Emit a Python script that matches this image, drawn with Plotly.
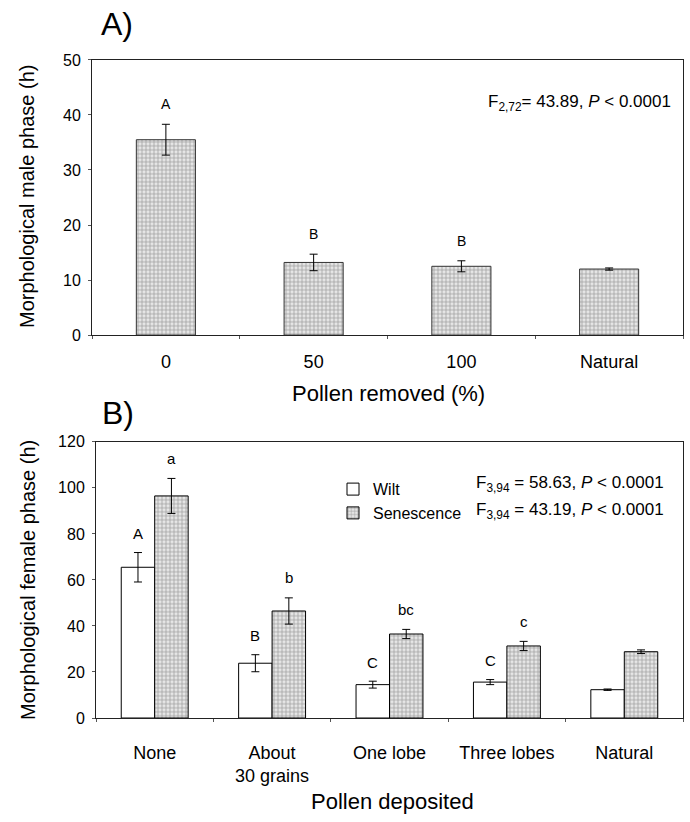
import plotly.graph_objects as go

# ---------------- data ----------------
A_cats = ["0", "50", "100", "Natural"]
A_mean = [35.5, 13.2, 12.5, 12.0]
A_se = [2.8, 1.5, 1.0, 0.2]
A_letters = ["A", "B", "B", ""]

B_cats = ["None", "About<br>30 grains", "One lobe", "Three lobes", "Natural"]
wilt_mean = [65.5, 23.8, 14.5, 15.6, 12.3]
wilt_se = [6.4, 3.7, 1.5, 1.1, 0.3]
sen_mean = [96.5, 46.5, 36.5, 31.3, 28.8]
sen_se = [7.6, 5.7, 2.0, 2.0, 0.8]
wilt_letters = ["A", "B", "C", "C", ""]
sen_letters = ["a", "b", "bc", "c", ""]

W, H = 690, 822
FONT = "Liberation Sans, Arial, sans-serif"


def px(x):
    return x / W


def py(y):
    return 1 - y / H


pattern = dict(shape="+", size=4, solidity=0.3, fgcolor="#444444", bgcolor="#e6e6e6")
err = dict(type="data", color="black", thickness=1, width=4, visible=True)

fig = go.Figure()

# Panel A
fig.add_trace(go.Bar(
    x=A_cats, y=A_mean, width=0.4,
    error_y=dict(err, array=A_se),
    marker=dict(color="#e6e6e6", pattern=pattern, line=dict(color="#333333", width=1)),
    showlegend=False, xaxis="x", yaxis="y",
))

# Panel B
bw = 0.285
fig.add_trace(go.Bar(
    x=B_cats, y=wilt_mean, width=bw, offset=-bw, name="Wilt",
    error_y=dict(err, array=wilt_se),
    marker=dict(color="white", line=dict(color="black", width=1)),
    xaxis="x2", yaxis="y2",
))
fig.add_trace(go.Bar(
    x=B_cats, y=sen_mean, width=bw, offset=0, name="Senescence",
    error_y=dict(err, array=sen_se),
    marker=dict(color="#e6e6e6", pattern=pattern, line=dict(color="black", width=1)),
    xaxis="x2", yaxis="y2",
))


def note(x, y, text, size, xref="paper", yref="paper", **kw):
    d = dict(x=x, y=y, xref=xref, yref=yref, text=text, showarrow=False,
             xanchor="center", yanchor="middle", font=dict(size=size))
    d.update(kw)
    return d


ann = []
for i, (m, s, t) in enumerate(zip(A_mean, A_se, A_letters)):
    if t:
        ann.append(note(i, m + s, t, 14, "x", "y", yshift=20))
for i, (m, s, t) in enumerate(zip(wilt_mean, wilt_se, wilt_letters)):
    if t:
        ann.append(note(i - bw / 2, m + s, t, 15, "x2", "y2", yshift=19))
for i, (m, s, t) in enumerate(zip(sen_mean, sen_se, sen_letters)):
    if t:
        ann.append(note(i + bw / 2, m + s, t, 15, "x2", "y2", yshift=20))

# panel labels
ann.append(note(px(99), py(16), "A)", 32, xanchor="left"))
ann.append(note(px(100), py(414), "B)", 32, xanchor="left"))

# axis titles
ann.append(note(px(27), py(193), "Morphological male phase (h)", 20, textangle=-90))
ann.append(note(px(28), py(584), "Morphological female phase (h)", 20, textangle=-90))
ann.append(note(px(388), py(394), "Pollen removed (%)", 22))
ann.append(note(px(392), py(810), "Pollen deposited", 22))

# statistics
ann.append(note(px(673), py(97), "F<sub>2,72</sub>= 43.89, <i>P</i> &lt; 0.0001", 17, xanchor="right"))
ann.append(note(px(666), py(486), "F<sub>3,94</sub> = 58.63, <i>P</i> &lt; 0.0001", 17, xanchor="right"))
ann.append(note(px(666), py(514), "F<sub>3,94</sub> = 43.19, <i>P</i> &lt; 0.0001", 17, xanchor="right"))

axis_common = dict(showline=True, linecolor="#222222", linewidth=1, mirror=True,
                   showgrid=False, zeroline=False, ticks="outside", ticklen=3,
                   tickcolor="#555555")

fig.update_layout(
    width=W, height=H,
    margin=dict(l=0, r=0, t=0, b=0),
    paper_bgcolor="white", plot_bgcolor="white",
    font=dict(family=FONT, color="black"),
    barmode="overlay",
    xaxis=dict(axis_common, domain=[px(92), px(683)], anchor="y", type="category",
               tickson="boundaries", tickfont=dict(size=18), ticklabelstandoff=10),
    yaxis=dict(axis_common, domain=[py(334), py(53)], anchor="x", range=[0, 50], dtick=10,
               tickfont=dict(size=16), ticklabelstandoff=4),
    xaxis2=dict(axis_common, domain=[px(96), px(683)], anchor="y2", type="category",
                tickson="boundaries", tickfont=dict(size=18), ticklabelstandoff=18),
    yaxis2=dict(axis_common, domain=[py(725), py(443)], anchor="x2", range=[0, 120], dtick=20,
                tickfont=dict(size=16), ticklabelstandoff=4),
    legend=dict(x=px(333), y=py(474), xanchor="left", yanchor="top",
                bgcolor="rgba(0,0,0,0)", font=dict(size=16), tracegroupgap=4),
    annotations=ann,
)

fig.write_html("out.html")
